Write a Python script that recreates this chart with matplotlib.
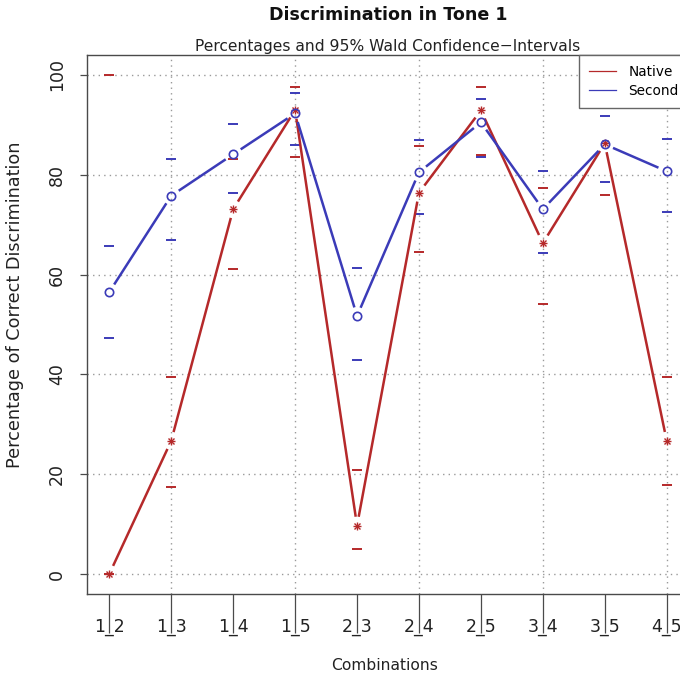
import numpy as np
import matplotlib
matplotlib.use("Agg")
import matplotlib.pyplot as plt
from matplotlib.lines import Line2D

# pairs of tones that were compared
combos = ["1_2", "1_3", "1_4", "1_5", "2_3", "2_4", "2_5", "3_4", "3_5", "4_5"]

# native speakers: percent correct and 95% Wald CI
native_pct = [0.0, 26.7, 73.1, 93.0, 9.7, 76.4, 92.9, 66.3, 86.3, 26.7]
native_lo = [0.0, 17.4, 61.1, 83.6, 5.0, 64.5, 84.0, 54.2, 76.0, 17.9]
native_hi = [100.0, 39.5, 83.1, 97.6, 20.9, 85.8, 97.6, 77.3, 93.5, 39.5]

# second language learners
second_pct = [56.5, 75.8, 84.1, 92.3, 51.7, 80.5, 90.5, 73.1, 86.1, 80.7]
second_lo = [47.2, 67.0, 76.3, 86.0, 42.8, 72.2, 83.6, 64.3, 78.6, 72.5]
second_hi = [65.7, 83.1, 90.2, 96.4, 61.3, 86.9, 95.1, 80.8, 91.8, 87.2]

RED = "#b5292a"
BLUE = "#3b3bb8"
GRID = "#9a9a9a"

plt.rcParams['font.family'] = ['DejaVu Sans']

fig = plt.figure(figsize=(6.8, 6.8), dpi=100)
W = H = 680.0
# plot region (the right edge runs past the picture, as in the original)
ax = fig.add_axes([87 / W, 1 - 594 / H, (689 - 87) / W, (594 - 55) / H])

x = np.arange(1, len(combos) + 1)
ax.set_xlim(0.64, 10.36)
ax.set_ylim(-4, 104)

# dotted grid like R's grid()
for gy in range(0, 101, 20):
    ax.axhline(gy, color=GRID, linestyle=(0, (1, 3)), linewidth=1.0, zorder=1)
for gx in [2, 4, 6, 8, 10]:
    ax.axvline(gx, color=GRID, linestyle=(0, (1, 3)), linewidth=1.0, zorder=1)


def gapped_segments(xs, ys, gap_px):
    # mimic R type="b": lines stop short of each point
    pts = ax.transData.transform(np.column_stack([xs, ys]))
    inv = ax.transData.inverted()
    segs = []
    for p0, p1 in zip(pts[:-1], pts[1:]):
        d = p1 - p0
        L = np.hypot(*d)
        if L <= 2 * gap_px:
            continue
        u = d / L
        a = inv.transform(p0 + u * gap_px)
        b = inv.transform(p1 - u * gap_px)
        segs.append((a, b))
    return segs


# confidence interval ends drawn as short dashes
ax.plot(x, native_lo, linestyle='none', marker='_', markersize=7.5, mew=1.4, color=RED, zorder=3)
ax.plot(x, native_hi, linestyle='none', marker='_', markersize=7.5, mew=1.4, color=RED, zorder=3)
ax.plot(x, second_lo, linestyle='none', marker='_', markersize=7.5, mew=1.4, color=BLUE, zorder=3)
ax.plot(x, second_hi, linestyle='none', marker='_', markersize=7.5, mew=1.4, color=BLUE, zorder=3)

for a, b in gapped_segments(x, native_pct, 9):
    ax.plot([a[0], b[0]], [a[1], b[1]], color=RED, linewidth=1.8, solid_capstyle='butt', zorder=4)
ax.plot(x, native_pct, linestyle='none', marker='+', markersize=6.0, mew=1.0, color=RED, zorder=5)
ax.plot(x, native_pct, linestyle='none', marker='x', markersize=4.4, mew=1.0, color=RED, zorder=5)

for a, b in gapped_segments(x, second_pct, 9):
    ax.plot([a[0], b[0]], [a[1], b[1]], color=BLUE, linewidth=1.8, solid_capstyle='butt', zorder=4)
ax.plot(x, second_pct, linestyle='none', marker='o', markersize=6.0, mew=1.2,
        markerfacecolor='none', markeredgecolor=BLUE, zorder=5)

# axes look
for s in ax.spines.values():
    s.set_color("#4a4a4a")
    s.set_linewidth(1.0)

ax.set_xticks(x)
ax.set_xticklabels(combos)
ax.set_yticks(range(0, 101, 20))
ax.set_yticklabels([str(v) for v in range(0, 101, 20)], rotation=90, va='center')
ax.tick_params(axis='x', length=28, width=0.9, color="#4a4a4a", pad=-10.5, labelsize=12.5, labelcolor="#222222")
ax.tick_params(axis='y', length=5, width=0.9, color="#4a4a4a", pad=10, labelsize=12.5, labelcolor="#222222")

# legend in the top right corner
handles = [Line2D([0], [0], color=RED, linewidth=0.9),
           Line2D([0], [0], color=BLUE, linewidth=0.9)]
leg = ax.legend(handles, ["Native", "Second"], loc='upper right', borderaxespad=0,
                fancybox=False, framealpha=1, edgecolor="#666666", fontsize=9.8,
                handlelength=2.0, handletextpad=0.9, borderpad=0.75, labelspacing=0.35)
leg.get_frame().set_linewidth(1.0)
leg.set_zorder(10)

cx = (87 + 689) / 2 / W
fig.text(cx, 1 - 15 / H, "Discrimination in Tone 1", ha='center', va='center',
         fontsize=12.6, fontweight='bold', color="#111111")
fig.text(cx, 1 - 46 / H, "Percentages and 95% Wald Confidence\u2212Intervals", ha='center',
         va='center', fontsize=11.2, color="#222222")
fig.text(385 / W, 1 - 665 / H, "Combinations", ha='center', va='center', fontsize=11.2, color="#222222")
fig.text(15 / W, 1 - 305 / H, "Percentage of Correct Discrimination", ha='center', va='center',
         rotation=90, fontsize=12.7, color="#222222")

fig.savefig("out.png", dpi=100)
